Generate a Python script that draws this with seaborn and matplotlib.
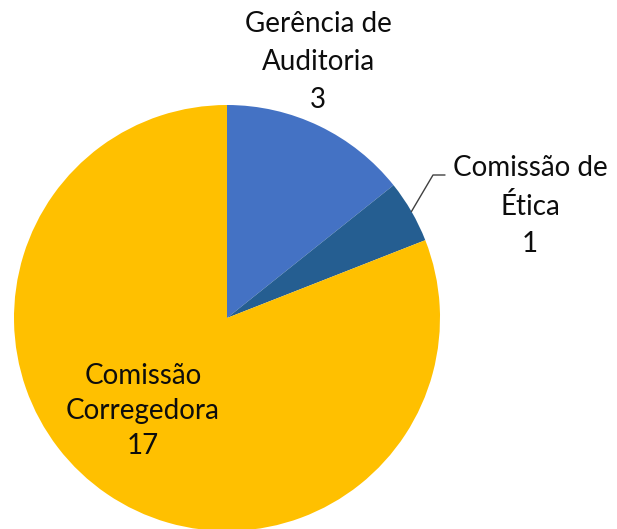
import numpy as np
import matplotlib
matplotlib.use('Agg')
import matplotlib.pyplot as plt
import seaborn as sns

sns.set_style('white')
plt.rcParams['font.family'] = ['Lato', 'DejaVu Sans']

# dados do gráfico
categorias = ['Gerência de\nAuditoria', 'Comissão de\nÉtica', 'Comissão\nCorregedora']
valores = [3, 1, 17]
cores = ['#4472C4', '#255E91', '#FFC000']

W, H = 617, 529
fig = plt.figure(figsize=(W / 100, H / 100), dpi=100)
ax = fig.add_axes([0, 0, 1, 1])

centro = (227, H - 318)
raio = 213
wedges, _ = ax.pie(valores, colors=cores, startangle=90, counterclock=False,
                   center=centro, radius=raio, wedgeprops=dict(linewidth=0))
ax.set_xlim(0, W)
ax.set_ylim(0, H)
ax.set_aspect('equal')
ax.axis('off')

txt = dict(ha='center', va='center', fontsize=20, color='#0d0d0d', linespacing=1.55)
rotulos = [c + '\n' + str(v) for c, v in zip(categorias, valores)]

# Gerência de Auditoria (acima)
ax.text(318, H - 62, rotulos[0], **txt)

# Comissão de Ética (fora, com linha de chamada)
w = wedges[1]
ang = np.deg2rad((w.theta1 + w.theta2) / 2)
p0 = (centro[0] + raio * np.cos(ang), centro[1] + raio * np.sin(ang))
ax.plot([p0[0], 433, 445], [p0[1], H - 175, H - 175], color='#404040', lw=1)
ax.text(530, H - 206, rotulos[1], **txt)

# Comissão Corregedora (dentro)
ax.text(143, H - 411, rotulos[2], linespacing=1.45,
        **{k: v for k, v in txt.items() if k != 'linespacing'})

fig.savefig('out.png', dpi=100)
